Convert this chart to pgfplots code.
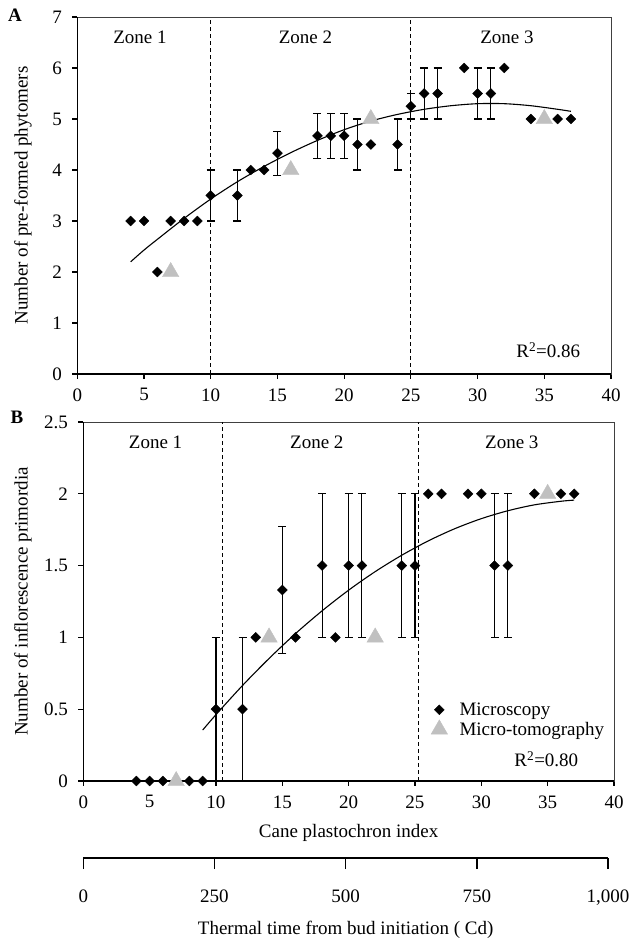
\documentclass[border=0pt]{standalone}
\usepackage{fontspec}
\setmainfont{Liberation Serif}
\usepackage{pgfplots}
\usepackage{pgfplotstable}
\pgfplotsset{compat=1.18}

\newcommand\fs{\fontsize{19}{22}\selectfont}
\definecolor{tomo}{RGB}{192,192,192}

% Panel A: pre-formed phytomers (x = CPI, y = mean, e = error)
\pgfplotstableread{
x  y    e
4  3    0
5  3    0
6  2    0
7  3    0
8  3    0
9  3    0
10 3.5  0.5
12 3.5  0.5
13 4    0
14 4    0
15 4.33 0.43
18 4.67 0.44
19 4.67 0.44
20 4.67 0.44
21 4.5  0.5
22 4.5  0
24 4.5  0.5
25 5.25 0.25
26 5.5  0.5
27 5.5  0.5
29 6    0
30 5.5  0.5
31 5.5  0.5
32 6    0
34 5    0
36 5    0
37 5    0
}\phyMicro

\pgfplotstableread{
x  y
7  2
16 4
22 5
35 5
}\phyTomo

\pgfplotstableread{
x  y
4  2.20
5  2.43
6  2.64
8  3.05
10 3.43
12 3.77
14 4.07
16 4.34
18 4.58
20 4.79
22 4.96
24 5.09
26 5.19
28 5.26
30 5.30
32 5.30
34 5.26
36 5.19
37 5.15
}\phyFit

% Panel B: inflorescence primordia
\pgfplotstableread{
x  y    e
4  0    0
5  0    0
6  0    0
8  0    0
9  0    0
10 0.5  0.5
12 0.5  0.5
13 1    0
15 1.33 0.44
16 1    0
18 1.5  0.5
19 1    0
20 1.5  0.5
21 1.5  0.5
24 1.5  0.5
25 1.5  0.5
26 2    0
27 2    0
29 2    0
30 2    0
31 1.5  0.5
32 1.5  0.5
34 2    0
36 2    0
37 2    0
}\infMicro

\pgfplotstableread{
x  y
7  0
14 1
22 1
35 2
}\infTomo

\pgfplotstableread{
x  y
9  0.355
10 0.462
12 0.665
14 0.853
16 1.027
18 1.185
20 1.329
22 1.458
24 1.572
26 1.672
28 1.757
30 1.827
32 1.882
34 1.923
36 1.948
37 1.956
}\infFit

\pgfplotsset{
  panel/.style={
    scale only axis, clip=false,
    xmin=0, xmax=40, xtick={0,5,...,40},
    tick align=outside, xtick pos=bottom, ytick pos=left,
    major tick length=5pt,
    tick style={line width=1.2pt, black},
    axis line style={line width=0.8pt, black!75},
    /pgf/number format/assume math mode=true,
    ticklabel style={font=\fs},
    yticklabel style={xshift=-7pt},
    xticklabel style={yshift=-6pt},
    label style={font=\fs},
  },
  micro/.style={only marks, mark=square*, mark size=3.5pt,
    mark options={rotate=45, fill=black, draw=black}},
  tomo/.style={only marks, mark=triangle*, mark size=9.5pt,
    mark options={fill=tomo, draw=tomo}},
  errs/.style={forget plot, draw=none, mark=none,
    error bars/.cd, y dir=both, y explicit,
    error bar style={draw=black, solid, line width=1.1pt},
    error mark options={rotate=90, draw=black, line width=1.1pt, mark size=4pt}},
  fit/.style={black, line width=1.1pt, no marks, smooth},
  zone/.style={black, line width=0.8pt, dash pattern=on 4pt off 3pt, forget plot},
}

\begin{document}
\begin{tikzpicture}[x=1pt, y=1pt, font=\fs]
\useasboundingbox (0,0) rectangle (634,941);

% ---------------- Panel A ----------------
\begin{axis}[panel,
  at={(77.3pt,567pt)}, anchor=south west,
  width=533.7pt, height=357pt,
  ymin=0, ymax=7, ytick={0,...,7},
  ylabel={Number of pre-formed phytomers},
  ylabel style={at={(axis description cs:-0.1017,0.5)}, anchor=center},
]
\addplot[zone] coordinates {(10,0) (10,7)};
\addplot[zone] coordinates {(25,0) (25,7)};
\addplot[fit, forget plot] table[x=x, y=y] {\phyFit};
\addplot[errs] table[x=x, y=y, y error=e] {\phyMicro};
\addplot[micro] table[x=x, y=y] {\phyMicro};
\addplot[tomo] table[x=x, y=y] {\phyTomo};
\draw[line width=1.6pt, black] (rel axis cs:0,1) -- (rel axis cs:0,0) -- (rel axis cs:1,0);
\node at (axis cs:4.7,6.6) {Zone 1};
\node at (axis cs:17.1,6.6) {Zone 2};
\node at (axis cs:32.2,6.6) {Zone 3};
\node at (axis cs:35.3,0.47) {R\textsuperscript{2}=0.86};
\end{axis}

% ---------------- Panel B ----------------
\begin{axis}[panel,
  at={(83.3pt,160pt)}, anchor=south west,
  width=530.7pt, height=359pt,
  ymin=0, ymax=2.5, ytick={0,0.5,...,2.5},
  yticklabels={0,0.5,1,1.5,2,2.5},
  ylabel={Number of inflorescence primordia},
  ylabel style={at={(axis description cs:-0.1136,0.5)}, anchor=center},
  xlabel={Cane plastochron index},
  xlabel style={at={(axis description cs:0.5,-0.1448)}, anchor=center},
  legend style={draw=none, fill=none, at={(axis cs:26.2,0.56)}, anchor=north west,
    font=\fs, row sep=1pt, inner sep=0pt,
    /tikz/every odd column/.append style={column sep=10pt}},
  legend cell align=left,
]
\addplot[zone] coordinates {(10.5,0) (10.5,2.5)};
\addplot[zone] coordinates {(25.25,0) (25.25,2.5)};
\addplot[fit, forget plot] table[x=x, y=y] {\infFit};
\addplot[errs] table[x=x, y=y, y error=e] {\infMicro};
\addplot[micro] table[x=x, y=y] {\infMicro};
\addplot[tomo] table[x=x, y=y] {\infTomo};
\legend{Microscopy, Micro-tomography}
\draw[line width=1.6pt, black] (rel axis cs:0,1) -- (rel axis cs:0,0) -- (rel axis cs:1,0);
\node at (axis cs:5.45,2.36) {Zone 1};
\node at (axis cs:17.6,2.36) {Zone 2};
\node at (axis cs:32.3,2.36) {Zone 3};
\node at (axis cs:34.9,0.15) {R\textsuperscript{2}=0.80};
\end{axis}

% ---------------- Thermal time scale ----------------
\begin{axis}[
  at={(83.3pt,83pt)}, anchor=south west,
  scale only axis, width=524.7pt, height=10pt,
  xmin=0, xmax=1000, ymin=0, ymax=1,
  hide y axis, axis x line*=bottom,
  x axis line style={-, line width=2pt, black},
  xtick={0,250,500,750,1000},
  xticklabels={0,250,500,750,{1,000}},
  tick align=outside, major tick length=11pt,
  tick style={line width=1.5pt, black},
  ticklabel style={font=\fs},
  xticklabel style={yshift=-17pt},
  xlabel={Thermal time from bud initiation ( Cd)},
  xlabel style={at={(axis description cs:0.5,0)}, anchor=center, yshift=-72pt, font=\fs},
]
\end{axis}
\node[font=\bfseries\fs] at (15,926) {A};
\node[font=\bfseries\fs] at (17,524) {B};
\end{tikzpicture}
\end{document}
